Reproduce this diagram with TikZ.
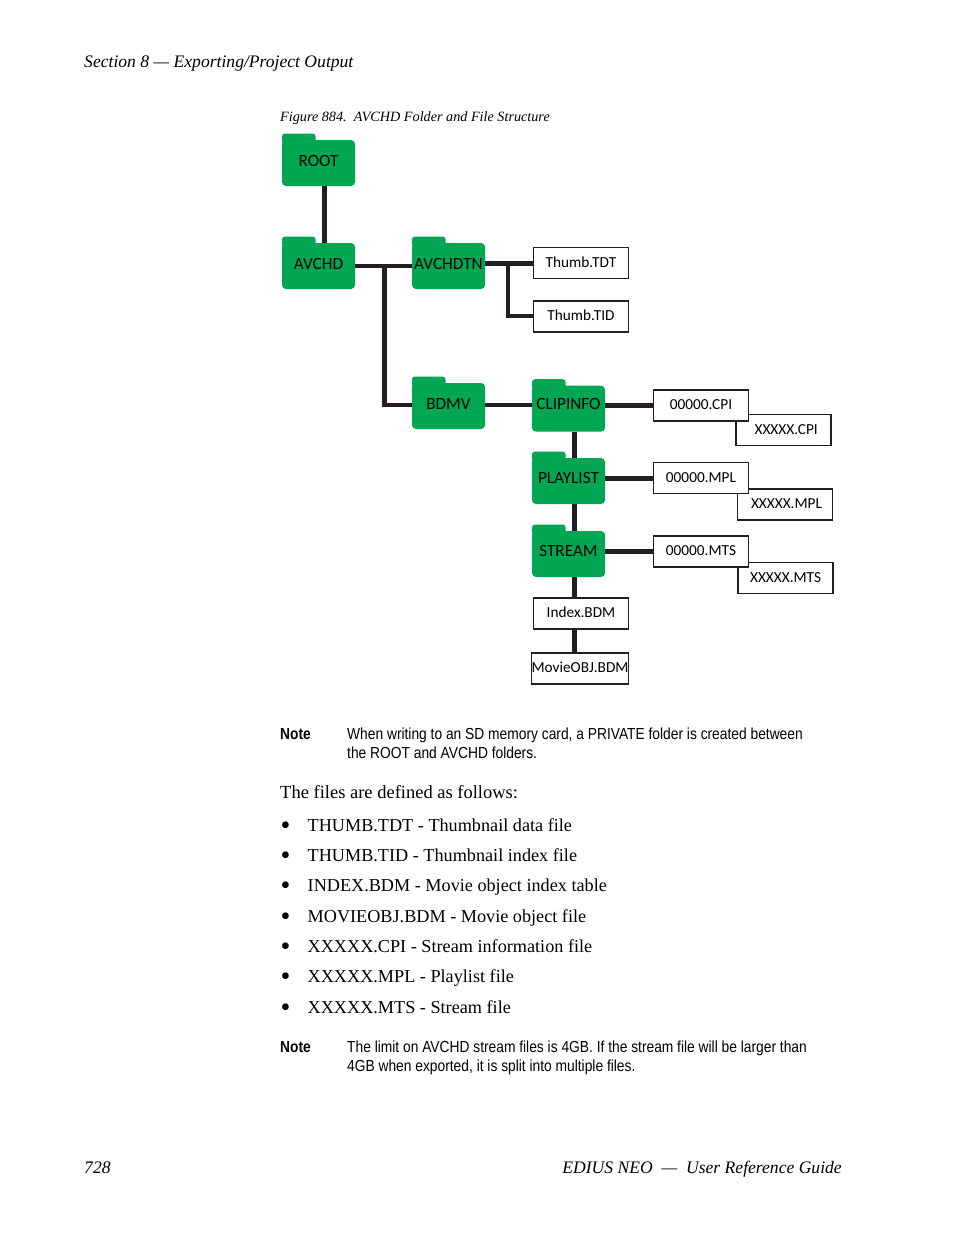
\documentclass[tikz,border=0pt]{standalone}
\usepackage{fontspec}
\setmainfont{Liberation Serif}
\newfontfamily\notefont[FakeStretch=0.862]{Liberation Sans}
\newfontfamily\boxfont{Carlito}
\definecolor{foldergreen}{HTML}{00A651}
\definecolor{linkblack}{HTML}{231F20}
\pgfdeclarelayer{background}
\pgfsetlayers{background,main}
\tikzset{
  folder/.style={fill=foldergreen, rounded corners=4pt, minimum width=73pt, minimum height=46pt,
    inner sep=0pt, outer sep=0pt, text height=10pt, text depth=#1,
    font=\boxfont\fontsize{17.2}{19}\selectfont},
  folder/.default=3pt,
  foldertab/.style={fill=foldergreen, rounded corners=3pt},
  filebox/.style={draw=linkblack, fill=white, line width=1.8pt, minimum width=95pt, minimum height=31pt,
    inner sep=0pt, outer sep=0pt, text height=10pt, text depth=2pt,
    font=\boxfont\fontsize{15.3}{17}\selectfont},
  link/.style={draw=linkblack, line width=4.4pt},
  filelink/.style={draw=linkblack, line width=5pt},
  pagetext/.style={anchor=base west, inner sep=0pt, font=\fontsize{18.5}{20}\selectfont},
  pageital/.style={pagetext, font=\fontsize{17.6}{20}\selectfont\itshape},
  listtext/.style={pagetext, font=\fontsize{18.2}{20}\selectfont},
  notetext/.style={anchor=base west, inner sep=0pt, font=\notefont\fontsize{16}{20}\selectfont},
  notehead/.style={notetext, font=\notefont\bfseries\fontsize{16}{20}\selectfont},
}
\begin{document}
\begin{tikzpicture}[x=1pt, y=-1pt]
\path[use as bounding box] (0,0) rectangle (954,1235);
% page text
\node[pageital] (header) at (84,67) {Section 8 --- Exporting/Project Output};
\node[pageital, font=\fontsize{14.2}{16}\selectfont\itshape] (caption) at (280,121) {Figure 884.\ \ AVCHD Folder and File Structure};
% folders
\node[folder] (root) at (318.5,163) {ROOT};
\node[folder] (avchd) at (318.5,266) {AVCHD};
\node[folder] (avchdtn) at (448.5,266) {AVCHDTN};
\node[folder] (bdmv) at (448.5,406) {BDMV};
\node[folder=9pt] (clipinfo) at (568.5,408.7) {CLIPINFO};
\node[folder=5pt] (playlist) at (568.5,481) {PLAYLIST};
\node[folder=5pt] (stream) at (568.5,554) {STREAM};
\foreach \f in {root,avchd,avchdtn,bdmv,clipinfo,playlist,stream}{
  \fill[foldertab] ([yshift=-4pt]\f.north west) -- ++(0,-10.5) -- ++(33.5,0) -- ++(0,10.5) -- cycle;
}
% files
\node[filebox] (thumbtdt) at (581,263) {Thumb.TDT};
\node[filebox] (thumbtid) at (581,316.2) {Thumb.TID};
\node[filebox] (cpixxx) at (783.7,430) {\hspace*{5pt}XXXXX.CPI};
\node[filebox] (cpinum) at (701,405.3) {00000.CPI};
\node[filebox] (mplxxx) at (785,504.8) {\hspace*{3pt}XXXXX.MPL};
\node[filebox] (mplnum) at (701,478) {00000.MPL};
\node[filebox] (mtsxxx) at (785.6,578) {XXXXX.MTS};
\node[filebox] (mtsnum) at (701,551.5) {00000.MTS};
\node[filebox] (indexbdm) at (581,613.4) {Index.BDM};
\node[filebox] (movieobj) at (580,668.8) {MovieOBJ.BDM};
% links
\coordinate (trunk) at (384.3,405);
\coordinate (branch) at (507.7,316.2);
\begin{pgfonlayer}{background}
\draw[link] ([xshift=6pt]root.south) -- ([xshift=6pt]avchd.north);
\draw[link] (avchd.east) -- (avchdtn.west);
\draw[link] (trunk |- avchd.east) -- (trunk) -- (bdmv.west |- trunk);
\draw[link] (bdmv.east |- trunk) -- (clipinfo.west |- trunk);
\draw[filelink] (avchdtn.east |- thumbtdt.west) -- (thumbtdt.west);
\draw[link] (branch |- thumbtdt.west) -- (branch) -- (thumbtid.west);
\draw[filelink] (clipinfo.east |- cpinum.west) -- (cpinum.west);
\draw[filelink] (playlist.east |- mplnum.west) -- (mplnum.west);
\draw[filelink] (stream.east |- mtsnum.west) -- (mtsnum.west);
\draw[link] ([xshift=5.8pt]clipinfo.south) -- ([xshift=5.8pt]playlist.north);
\draw[link] ([xshift=5.8pt]playlist.south) -- ([xshift=5.8pt]stream.north);
\draw[link] ([xshift=5.8pt]stream.south) -- ([xshift=5.8pt]stream.south |- movieobj.north);
\end{pgfonlayer}
% notes
\node[notehead] (noteone) at (280,739) {Note};
\node[notetext] (noteonea) at (347,739) {When writing to an SD memory card, a PRIVATE folder is created between};
\node[notetext] (noteoneb) at (347,758) {the ROOT and AVCHD folders.};
\node[pagetext] (intro) at (280,798) {The files are defined as follows:};
% list
\foreach \y/\t in {831/THUMB.TDT - Thumbnail data file, 861/THUMB.TID - Thumbnail index file,
  891/INDEX.BDM - Movie object index table, 922/MOVIEOBJ.BDM - Movie object file,
  952/XXXXX.CPI - Stream information file, 982/XXXXX.MPL - Playlist file, 1013/XXXXX.MTS - Stream file}{
  \node[listtext, font=\fontsize{28}{28}\selectfont, yshift=-3.5pt] (dot\y) at (280.5,\y) {\textbullet};
  \node[listtext] (item\y) at (307.5,\y) {\t};
}
\node[notehead] (notetwo) at (280,1052) {Note};
\node[notetext] (notetwoa) at (347,1052) {The limit on AVCHD stream files is 4GB. If the stream file will be larger than};
\node[notetext] (notetwob) at (347,1071) {4GB when exported, it is split into multiple files.};
% footer
\node[pageital] (pageno) at (84,1173) {728};
\node[pageital, anchor=base east] (guide) at (842,1173) {EDIUS NEO\ \ ---\ \ User Reference Guide};
\end{tikzpicture}
\end{document}
